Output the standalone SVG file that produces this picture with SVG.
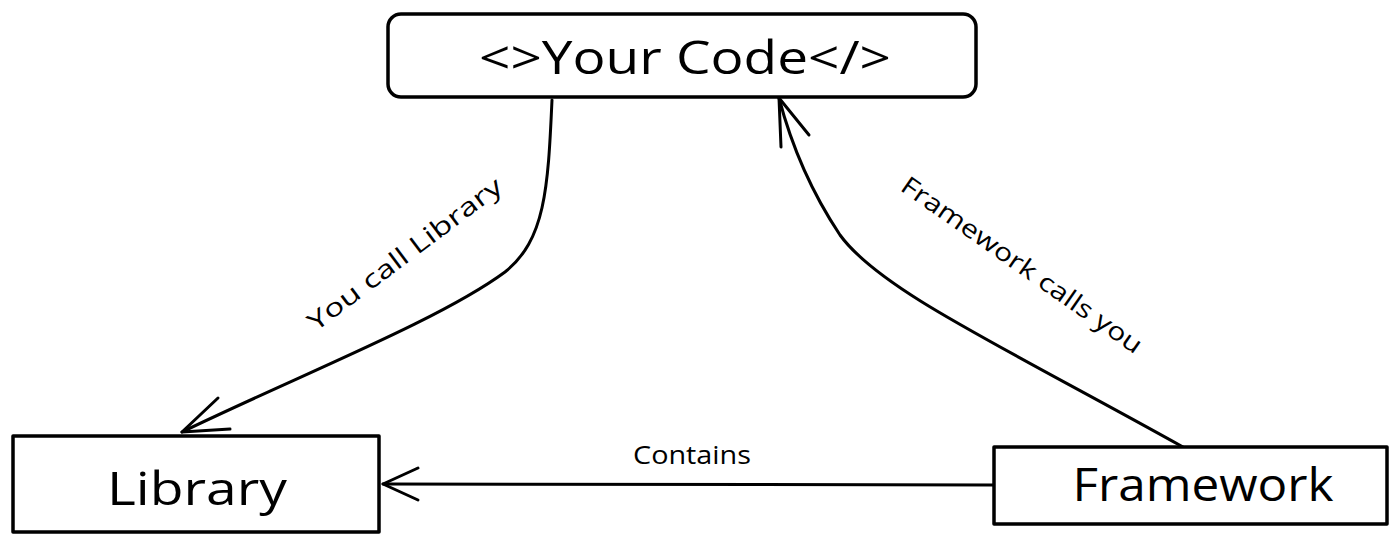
<svg xmlns="http://www.w3.org/2000/svg" width="1400" height="548" viewBox="0 0 1400 548">
<style>
.box{fill:#fff;stroke:#000;stroke-width:3.5;stroke-linejoin:round}
.edge{fill:none;stroke:#000;stroke-width:3;stroke-linecap:round;stroke-linejoin:round}
.big{font-family:"Open Sans","Liberation Sans",sans-serif;font-size:46px;fill:#000;text-anchor:middle}
.lbl{font-family:"Open Sans","Liberation Sans",sans-serif;font-size:25px;fill:#000;text-anchor:middle}
</style>
<rect width="1400" height="548" fill="#fff"/>
<g id="connectors">
  <g id="e-library">
    <path class="edge" d="M552,100 C548,190 545,240 505,272 C440,320 300,375 182,432"/>
    <path class="edge" d="M218,398 L182,432 L230,429"/>
  </g>
  <g id="e-framework">
    <path class="edge" d="M1183,447 C1000,345 880,290 840,235 C810,190 790,140 779,98"/>
    <path class="edge" d="M781,147 L779,98 L809,135"/>
  </g>
  <g id="e-contains">
    <path class="edge" d="M993,485 L383,484"/>
    <path class="edge" d="M418,468 L383,484 L418,500"/>
  </g>
  <text class="lbl" transform="translate(410,261) rotate(-37)" textLength="236" lengthAdjust="spacingAndGlyphs">You call Library</text>
  <text class="lbl" transform="translate(1017,272) rotate(35)" textLength="288" lengthAdjust="spacingAndGlyphs">Framework calls you</text>
  <text class="lbl" x="692" y="464" textLength="118" lengthAdjust="spacingAndGlyphs">Contains</text>
</g>
<g id="your-code">
  <rect class="box" x="388" y="14" width="588" height="83" rx="13"/>
  <text class="big" x="685" y="74" textLength="412" lengthAdjust="spacingAndGlyphs">&lt;&gt;Your Code&lt;/&gt;</text>
</g>
<g id="library">
  <rect class="box" x="13" y="436" width="366" height="96"/>
  <text class="big" x="197" y="505" textLength="180" lengthAdjust="spacingAndGlyphs">Library</text>
</g>
<g id="framework">
  <rect class="box" x="994" y="447" width="393" height="77"/>
  <text class="big" x="1203" y="501" textLength="261" lengthAdjust="spacingAndGlyphs">Framework</text>
</g>
</svg>
